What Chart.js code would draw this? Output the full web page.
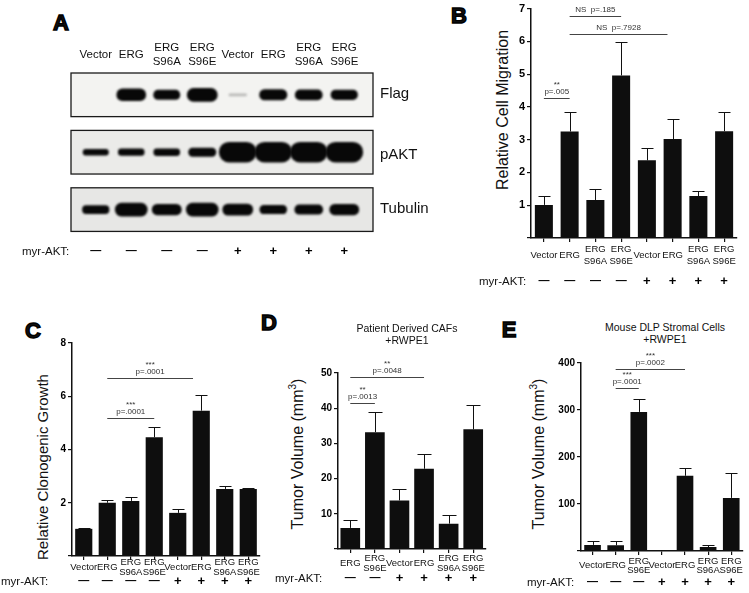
<!DOCTYPE html>
<html>
<head>
<meta charset="utf-8">
<script src="https://cdn.jsdelivr.net/npm/chart.js@4.4.1/dist/chart.umd.min.js"></script>
<style>
  html, body { margin: 0; padding: 0; background: #fff; }
  body { width: 749px; height: 593px; position: relative; overflow: hidden;
         font-family: "Liberation Sans", Arial, sans-serif; color: #111; }
  .box { position: absolute; }
  .letter { position: absolute; font-size: 22px; font-weight: bold; line-height: 1;
            -webkit-text-stroke: 1.4px #000; transform: translate(-50%, -50%); }
  .ytitle { position: absolute; font-size: 16px; white-space: nowrap; line-height: 1;
            transform: translate(-50%, -50%) rotate(-90deg); }
  .ytitle sup { font-size: 10px; }
  .lbl { position: absolute; white-space: nowrap; line-height: 1; transform: translateY(-50%); }
  .ctr { position: absolute; white-space: nowrap; line-height: 1.1; text-align: center;
         transform: translate(-50%, -50%); font-size: 10.5px; }
</style>
</head>
<body>

<div class="letter" style="left:61px;top:23px">A</div>
<div class="letter" style="left:459px;top:16px">B</div>
<div class="letter" style="left:33px;top:331px">C</div>
<div class="letter" style="left:269px;top:323px">D</div>
<div class="letter" style="left:509px;top:330px">E</div>

<!-- panel A: western blot -->
<div class="box" style="left:60px;top:30px;width:330px;height:240px"><canvas id="blotA"></canvas></div>
<div class="lbl" style="left:380px;top:92px;font-size:15px">Flag</div>
<div class="lbl" style="left:380px;top:153px;font-size:15px">pAKT</div>
<div class="lbl" style="left:380px;top:207px;font-size:15px">Tubulin</div>
<div class="lbl" style="left:22px;top:252px;font-size:11.5px">myr-AKT:</div>

<!-- panel B -->
<div class="ytitle" style="left:503px;top:110px">Relative Cell Migration</div>
<div class="box" style="left:490px;top:0;width:259px;height:300px"><canvas id="chartB"></canvas></div>
<div class="lbl" style="left:479px;top:282px;font-size:11.5px">myr-AKT:</div>

<!-- panel C -->
<div class="ytitle" style="left:42px;top:467px;font-size:15px">Relative Clonogenic Growth</div>
<div class="box" style="left:40px;top:330px;width:222px;height:263px"><canvas id="chartC"></canvas></div>
<div class="lbl" style="left:1px;top:582px;font-size:11.5px">myr-AKT:</div>

<!-- panel D -->
<div class="ctr" style="left:407px;top:335px">Patient Derived CAFs<br>+RWPE1</div>
<div class="ytitle" style="left:297px;top:454px">Tumor Volume (mm<sup>3</sup>)</div>
<div class="box" style="left:300px;top:350px;width:190px;height:243px"><canvas id="chartD"></canvas></div>
<div class="lbl" style="left:275px;top:579px;font-size:11.5px">myr-AKT:</div>

<!-- panel E -->
<div class="ctr" style="left:665px;top:334px">Mouse DLP Stromal Cells<br>+RWPE1</div>
<div class="ytitle" style="left:538px;top:454px">Tumor Volume (mm<sup>3</sup>)</div>
<div class="box" style="left:545px;top:345px;width:204px;height:248px"><canvas id="chartE"></canvas></div>
<div class="lbl" style="left:527px;top:583px;font-size:11.5px">myr-AKT:</div>

<script>
// ---- data ----
const FONT = '"Liberation Sans", Arial, sans-serif';

// panel A: lanes and band signal (0 = no band, 1 = saturated)
const lanesA = [['Vector'], ['ERG'], ['ERG', 'S96A'], ['ERG', 'S96E'], ['Vector'], ['ERG'], ['ERG', 'S96A'], ['ERG', 'S96E']];
const myrAktA = ['—', '—', '—', '—', '+', '+', '+', '+'];
const flagSignal = [0, 0.92, 0.72, 1.0, 0.07, 0.8, 0.78, 0.74];
const paktSignal = [0.3, 0.33, 0.34, 0.42, 1, 1, 1, 1];
const tubulinSignal = [0.62, 1.0, 0.8, 1.0, 0.86, 0.64, 0.72, 0.8];

// panel B: relative cell migration
const groupsB = lanesA;
const myrAktB = myrAktA;
const migration = [1.01, 3.25, 1.16, 4.96, 2.37, 3.02, 1.28, 3.26];
const migrationErr = [0.26, 0.6, 0.33, 1.01, 0.39, 0.6, 0.15, 0.6];
const sigB = [
  { from: 1, to: 3, level: 6.78, text: ['NS  p=.185'] },
  { from: 1, to: 4.8, level: 6.23, text: ['NS  p=.7928'] },
  { from: 0, to: 1, level: 4.28, text: ['**', 'p=.005'] }
];

// panel C: relative clonogenic growth
const groupsC = lanesA;
const myrAktC = myrAktA;
const clonogenic = [1.02, 2.0, 2.07, 4.46, 1.62, 5.46, 2.52, 2.52];
const clonogenicErr = [0.04, 0.12, 0.15, 0.4, 0.13, 0.6, 0.1, 0.03];
const sigC = [
  { from: 1, to: 4.65, level: 6.67, text: ['***', 'p=.0001'] },
  { from: 1, to: 3, level: 5.17, text: ['***', 'p=.0001'] }
];

// panel D: tumor volume, patient derived CAFs
const groupsD = [['ERG'], ['ERG', 'S96E'], ['Vector'], ['ERG'], ['ERG', 'S96A'], ['ERG', 'S96E']];
const myrAktD = ['—', '—', '+', '+', '+', '+'];
const volumeCaf = [6.0, 33.2, 13.8, 22.8, 7.2, 34.0];
const volumeCafErr = [2.1, 5.7, 3.2, 4.2, 2.6, 7.0];
const sigD = [
  { from: 0, to: 3, level: 48.9, text: ['**', 'p=.0048'] },
  { from: 0, to: 1, level: 41.5, text: ['**', 'p=.0013'] }
];

// panel E: tumor volume, mouse DLP stromal cells
const groupsE = [['Vector'], ['ERG'], ['ERG', 'S96E'], ['Vector'], ['ERG'], ['ERG', 'S96A'], ['ERG', 'S96E']];
const myrAktE = ['—', '—', '—', '+', '+', '+', '+'];
const volumeDlp = [13, 12, 296, 0, 160, 8.5, 113];
const volumeDlpErr = [7.5, 8.5, 27, 0, 17, 5, 54];
const sigE = [
  { from: 1, to: 4, level: 387, text: ['***', 'p=.0002'] },
  { from: 1, to: 2, level: 347, text: ['***', 'p=.0001'] }
];

Chart.defaults.font.family = FONT;
Chart.defaults.color = '#111';

// ---- plugins ----
function makeErrorBars(errors, cap) {
  return {
    id: 'errorBars',
    afterDatasetsDraw(chart) {
      const { ctx, scales: { y } } = chart;
      const values = chart.data.datasets[0].data;
      ctx.save();
      ctx.strokeStyle = '#111';
      ctx.lineWidth = 1;
      chart.getDatasetMeta(0).data.forEach((bar, i) => {
        if (!errors[i]) return;
        const top = Math.round(y.getPixelForValue(values[i] + errors[i])) + 0.5;
        const x = Math.round(bar.x) + 0.5;
        ctx.beginPath();
        ctx.moveTo(x, bar.y);
        ctx.lineTo(x, top);
        ctx.moveTo(x - cap, top);
        ctx.lineTo(x + cap, top);
        ctx.stroke();
      });
      ctx.restore();
    }
  };
}

function makeSig(marks) {
  return {
    id: 'sigMarks',
    afterDatasetsDraw(chart) {
      const { ctx, scales: { x, y } } = chart;
      ctx.save();
      ctx.strokeStyle = '#444';
      ctx.lineWidth = 1;
      ctx.fillStyle = '#333';
      ctx.textAlign = 'center';
      ctx.textBaseline = 'middle';
      ctx.font = '8px ' + FONT;
      marks.forEach(m => {
        const x1 = x.getPixelForValue(m.from);
        const x2 = x.getPixelForValue(m.to);
        const py = Math.round(y.getPixelForValue(m.level)) + 0.5;
        ctx.beginPath();
        ctx.moveTo(x1, py);
        ctx.lineTo(x2, py);
        ctx.stroke();
        const cx = (x1 + x2) / 2;
        m.text.slice().reverse().forEach((t, k) => {
          ctx.fillText(t, cx, py - 7 - k * 7);
        });
      });
      ctx.restore();
    }
  };
}

// ---- bar panels ----
function barChart(id, labels, signs, values, errors, marks, c) {
  return new Chart(document.getElementById(id), {
    type: 'bar',
    data: {
      labels: labels,
      datasets: [{
        data: values,
        backgroundColor: '#0e0e0e',
        barPercentage: c.bar,
        categoryPercentage: 1
      }]
    },
    options: {
      responsive: true,
      maintainAspectRatio: false,
      animation: false,
      layout: { padding: { top: c.top, right: c.right, left: 0, bottom: 0 } },
      plugins: { legend: { display: false }, tooltip: { enabled: false } },
      scales: {
        y: {
          min: 0,
          max: c.max,
          ticks: {
            stepSize: c.step,
            padding: 2,
            color: '#000',
            font: { size: c.tickSize, weight: 'bold' },
            callback: v => (v === 0 ? '' : v)
          },
          grid: { drawOnChartArea: false, tickLength: 4, color: '#111', lineWidth: 1.2 },
          border: { color: '#111', width: 1.5 },
          afterFit: s => { s.width = c.yw; }
        },
        x: {
          offset: true,
          ticks: {
            autoSkip: false, maxRotation: 0, minRotation: 0,
            padding: c.xpad, crossAlign: 'center', color: '#111',
            font: { size: 9.5, lineHeight: c.lh }
          },
          grid: { offset: false, drawOnChartArea: false, tickLength: 4, color: '#111', lineWidth: 1.2 },
          border: { color: '#111', width: 1.5 },
          afterFit: s => { s.height = c.xh; }
        },
        x2: {
          type: 'category',
          labels: signs,
          position: 'bottom',
          offset: true,
          grid: { display: false, drawTicks: false },
          border: { display: false },
          ticks: {
            autoSkip: false, maxRotation: 0, minRotation: 0,
            padding: c.spad, color: '#000',
            font: ctx => ({ size: signs[ctx.index] === '+' ? 13 : 11, weight: 'bold' })
          },
          afterFit: s => { s.height = c.sh; }
        }
      }
    },
    plugins: [makeErrorBars(errors, c.cap), makeSig(marks)]
  });
}

barChart('chartB', groupsB, myrAktB, migration, migrationErr, sigB,
  { bar: 0.7, top: 5.5, right: 12, max: 7, step: 1, tickSize: 11, yw: 41, xh: 32, sh: 30, xpad: 7, spad: 4, lh: 1.25, cap: 6 });
barChart('chartC', groupsC, myrAktC, clonogenic, clonogenicErr, sigC,
  { bar: 0.73, top: 13, right: 2, max: 8, step: 2, tickSize: 10, yw: 32, xh: 21, sh: 16, xpad: 2, spad: -3, lh: 1.05, cap: 6 });
barChart('chartD', groupsD, myrAktD, volumeCaf, volumeCafErr, sigD,
  { bar: 0.8, top: 23, right: 2, max: 50, step: 10, tickSize: 10, yw: 38, xh: 24, sh: 20, xpad: 5, spad: -2, lh: 1.1, cap: 7 });
barChart('chartE', groupsE, myrAktE, volumeDlp, volumeDlpErr, sigE,
  { bar: 0.72, top: 18, right: 2, max: 400, step: 100, tickSize: 10, yw: 36, xh: 26, sh: 16, xpad: 6, spad: -2, lh: 1.0, cap: 6 });

// ---- panel A: blot, one floating bar per band ----
const ROW_PX = 57.4;           // pixels per blot row on the y scale
const BOX_HALF = 0.38;         // half height of a blot frame, in rows
const bandLook = [{ h: 13, w: 30 }, { h: 20, w: 37 }, { h: 13, w: 32 }];
const frameFill = ['#f3f3f1', '#ebebe9', '#e7e7e5'];
const bandRows = [flagSignal, paktSignal, tubulinSignal];

const bandSets = [];
bandRows.forEach((signal, r) => {
  signal.forEach((s, i) => {
    if (s <= 0) return;
    const hPx = Math.max(2, s * bandLook[r].h);
    const half = hPx / 2 / ROW_PX;
    bandSets.push({
      data: lanesA.map((_, j) => (j === i ? [r - half, r + half] : null)),
      barThickness: (0.55 + 0.45 * s) * bandLook[r].w,
      backgroundColor: 'rgba(8,8,8,' + Math.min(1, s * 3.5) + ')',
      borderRadius: hPx / 2,
      borderSkipped: false,
      grouped: false,
      clip: false
    });
  });
});

const blotFrames = {
  id: 'blotFrames',
  beforeDatasetsDraw(chart) {
    const { ctx, chartArea, scales: { y } } = chart;
    const left = chartArea.left - 7;
    const right = chartArea.right + 11;
    ctx.save();
    bandRows.forEach((_, r) => {
      const t = y.getPixelForValue(r - BOX_HALF);
      const b = y.getPixelForValue(r + BOX_HALF);
      ctx.fillStyle = frameFill[r];
      ctx.fillRect(left, t, right - left, b - t);
      ctx.strokeStyle = '#1a1a1a';
      ctx.lineWidth = 1.3;
      ctx.strokeRect(left, t, right - left, b - t);
    });
    ctx.restore();
    ctx.save();
    ctx.filter = 'blur(1.1px)';
  },
  afterDatasetsDraw(chart) {
    chart.ctx.restore();
  }
};

new Chart(document.getElementById('blotA'), {
  type: 'bar',
  data: { labels: lanesA, datasets: bandSets },
  options: {
    responsive: true,
    maintainAspectRatio: false,
    animation: false,
    layout: { padding: { left: 18, right: 28, top: 0, bottom: 0 } },
    plugins: { legend: { display: false }, tooltip: { enabled: false } },
    scales: {
      x: {
        position: 'top',
        offset: true,
        grid: { display: false, drawTicks: false },
        border: { display: false },
        ticks: {
          autoSkip: false, maxRotation: 0, minRotation: 0,
          padding: 11, crossAlign: 'center', color: '#111',
          font: { size: 11.5, lineHeight: 1.2 }
        },
        afterFit: s => { s.height = 43; }
      },
      x2: {
        type: 'category',
        labels: myrAktA,
        position: 'bottom',
        offset: true,
        grid: { display: false, drawTicks: false },
        border: { display: false },
        ticks: {
          autoSkip: false, maxRotation: 0, minRotation: 0,
          padding: 12, color: '#000',
          font: ctx => ({ size: myrAktA[ctx.index] === '+' ? 13 : 11, weight: 'bold' })
        },
        afterFit: s => { s.height = 38; }
      },
      y: { display: false, reverse: true, min: -BOX_HALF, max: 2.39 }
    }
  },
  plugins: [blotFrames]
});
</script>
</body>
</html>
